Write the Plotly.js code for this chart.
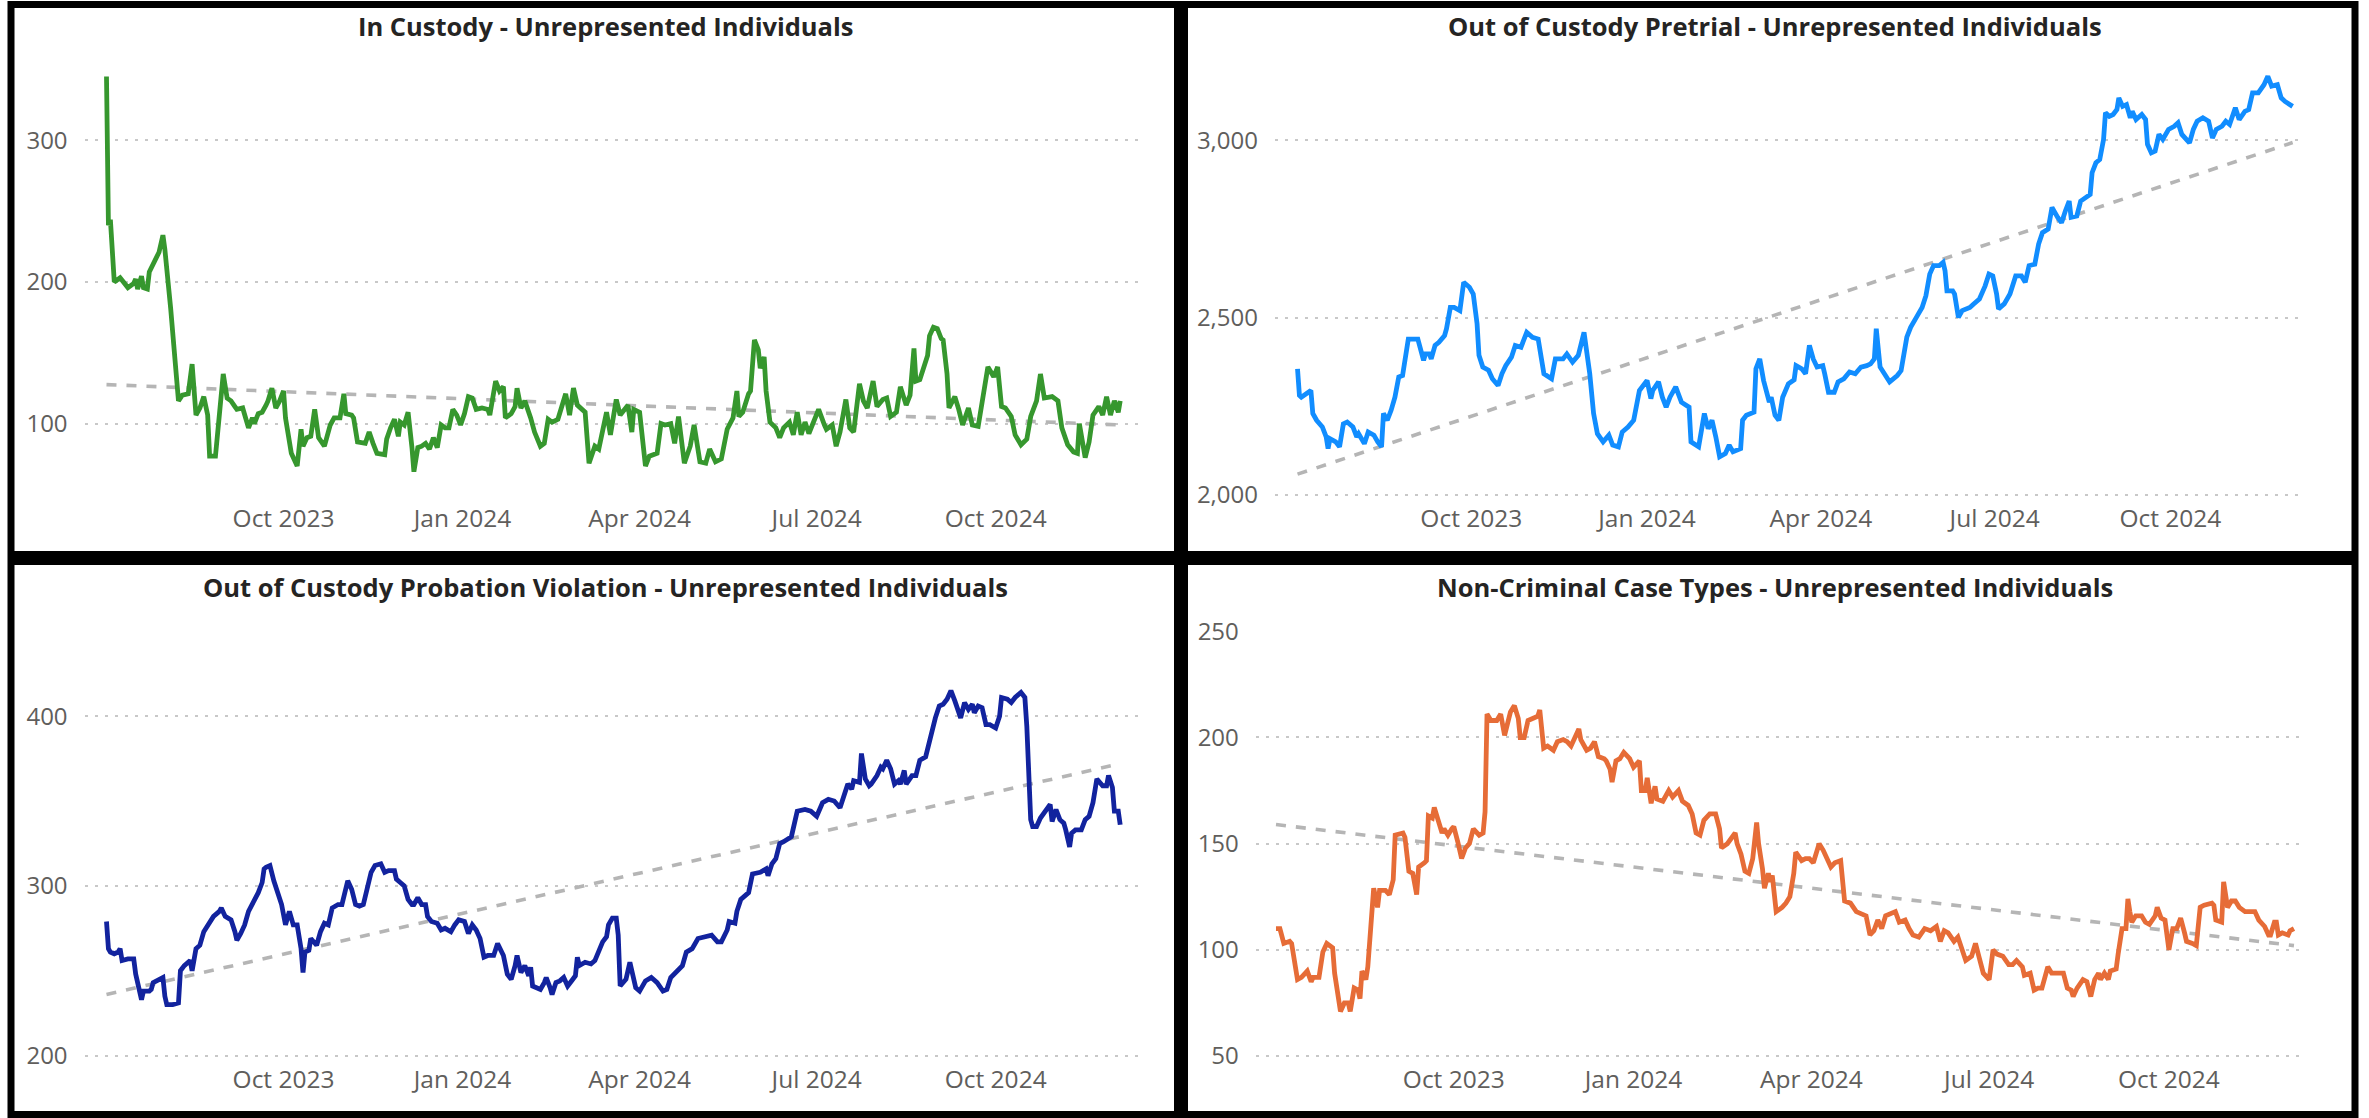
<!DOCTYPE html>
<html>
<head>
<meta charset="utf-8">
<script src="https://cdn.plot.ly/plotly-3.0.1.min.js"></script>
<style>
html,body{margin:0;padding:0;background:#ffffff;}
#chart{width:2369px;height:1118px;}
</style>
</head>
<body>
<div id="chart"></div>
<script>
// ---------------- data ----------------
const tickDates = ['2023-10-01','2024-01-01','2024-04-01','2024-07-01','2024-10-01'];
const tickLabels = ['Oct 2023','Jan 2024','Apr 2024','Jul 2024','Oct 2024'];

const panelTitles = [
  'In Custody - Unrepresented Individuals',
  'Out of Custody Pretrial - Unrepresented Individuals',
  'Out of Custody Probation Violation - Unrepresented Individuals',
  'Non-Criminal Case Types - Unrepresented Individuals'
];

// In Custody
const inCustodyDates = ['2023-07-02','2023-07-03','2023-07-04','2023-07-06','2023-07-09','2023-07-11','2023-07-13','2023-07-16','2023-07-17','2023-07-18','2023-07-20','2023-07-21','2023-07-23','2023-07-24','2023-07-26','2023-07-29','2023-07-31','2023-08-01','2023-08-04','2023-08-07','2023-08-08','2023-08-10','2023-08-13','2023-08-15','2023-08-16','2023-08-17','2023-08-19','2023-08-21','2023-08-23','2023-08-24','2023-08-27','2023-08-29','2023-08-31','2023-09-02','2023-09-04','2023-09-06','2023-09-07','2023-09-10','2023-09-13','2023-09-15','2023-09-16','2023-09-18','2023-09-20','2023-09-22','2023-09-23','2023-09-25','2023-09-27','2023-09-29','2023-10-01','2023-10-02','2023-10-05','2023-10-08','2023-10-10','2023-10-11','2023-10-13','2023-10-15','2023-10-17','2023-10-19','2023-10-22','2023-10-25','2023-10-27','2023-10-30','2023-11-01','2023-11-02','2023-11-05','2023-11-06','2023-11-08','2023-11-12','2023-11-14','2023-11-16','2023-11-18','2023-11-22','2023-11-23','2023-11-25','2023-11-27','2023-11-29','2023-11-30','2023-12-02','2023-12-04','2023-12-06','2023-12-07','2023-12-09','2023-12-11','2023-12-13','2023-12-15','2023-12-17','2023-12-19','2023-12-21','2023-12-23','2023-12-25','2023-12-27','2023-12-29','2023-12-31','2024-01-02','2024-01-04','2024-01-06','2024-01-08','2024-01-11','2024-01-14','2024-01-15','2024-01-18','2024-01-20','2024-01-22','2024-01-23','2024-01-26','2024-01-28','2024-01-29','2024-01-31','2024-02-02','2024-02-05','2024-02-07','2024-02-10','2024-02-12','2024-02-14','2024-02-16','2024-02-19','2024-02-21','2024-02-23','2024-02-25','2024-02-27','2024-02-29','2024-03-04','2024-03-06','2024-03-09','2024-03-11','2024-03-13','2024-03-15','2024-03-17','2024-03-20','2024-03-22','2024-03-26','2024-03-28','2024-03-29','2024-04-01','2024-04-04','2024-04-06','2024-04-10','2024-04-12','2024-04-14','2024-04-17','2024-04-19','2024-04-21','2024-04-24','2024-04-27','2024-04-29','2024-05-02','2024-05-05','2024-05-07','2024-05-10','2024-05-13','2024-05-16','2024-05-19','2024-05-21','2024-05-22','2024-05-24','2024-05-27','2024-05-28','2024-05-30','2024-06-01','2024-06-02','2024-06-04','2024-06-05','2024-06-07','2024-06-10','2024-06-12','2024-06-14','2024-06-17','2024-06-19','2024-06-21','2024-06-23','2024-06-25','2024-06-27','2024-06-30','2024-07-02','2024-07-05','2024-07-06','2024-07-09','2024-07-11','2024-07-13','2024-07-16','2024-07-18','2024-07-20','2024-07-23','2024-07-25','2024-07-27','2024-07-30','2024-08-01','2024-08-04','2024-08-06','2024-08-08','2024-08-11','2024-08-13','2024-08-16','2024-08-18','2024-08-20','2024-08-21','2024-08-23','2024-08-25','2024-08-27','2024-08-28','2024-08-30','2024-09-01','2024-09-03','2024-09-04','2024-09-06','2024-09-07','2024-09-10','2024-09-12','2024-09-14','2024-09-17','2024-09-19','2024-09-22','2024-09-25','2024-09-27','2024-09-30','2024-10-02','2024-10-04','2024-10-06','2024-10-09','2024-10-11','2024-10-14','2024-10-17','2024-10-19','2024-10-22','2024-10-24','2024-10-26','2024-10-30','2024-11-02','2024-11-04','2024-11-07','2024-11-10','2024-11-12','2024-11-13','2024-11-16','2024-11-18','2024-11-20','2024-11-23','2024-11-25','2024-11-27','2024-11-29','2024-12-01','2024-12-03','2024-12-04'];
const inCustodyValues = [345,240,244,200,203,200,196,199,202,195,204,196,195,207,212,221,233,223,181,130,116,120,121,142,124,106,111,119,106,77,77,108,135,118,116,112,110,111,97,104,100,107,108,113,116,125,111,116,123,104,79,70,96,84,90,91,110,90,84,99,104,104,121,107,106,104,87,86,94,86,79,78,89,97,103,91,101,99,108,83,66,83,84,86,82,90,83,99,97,97,110,106,99,107,119,118,110,111,110,106,130,123,126,104,107,112,125,111,116,104,94,84,86,103,101,103,111,121,106,125,113,108,72,84,82,97,108,92,117,106,113,94,110,108,70,77,79,100,99,100,86,105,72,84,99,73,72,82,73,75,96,104,123,105,108,121,123,159,152,139,147,123,101,97,90,97,101,92,108,92,101,93,104,110,99,96,99,84,94,117,97,94,128,116,111,130,112,117,118,105,108,126,113,120,153,130,131,140,148,162,168,167,160,159,135,111,119,110,99,111,99,98,124,140,133,140,112,111,105,92,85,89,105,116,135,118,119,116,97,85,80,79,100,76,87,106,112,106,119,106,116,108,116];

// Out of Custody Pretrial
const pretrialDates = ['2023-07-02','2023-07-03','2023-07-04','2023-07-07','2023-07-09','2023-07-10','2023-07-12','2023-07-15','2023-07-17','2023-07-18','2023-07-19','2023-07-22','2023-07-24','2023-07-26','2023-07-28','2023-07-31','2023-08-02','2023-08-03','2023-08-06','2023-08-08','2023-08-11','2023-08-13','2023-08-15','2023-08-16','2023-08-18','2023-08-20','2023-08-22','2023-08-24','2023-08-26','2023-08-29','2023-09-01','2023-09-03','2023-09-06','2023-09-07','2023-09-09','2023-09-10','2023-09-12','2023-09-14','2023-09-17','2023-09-18','2023-09-20','2023-09-22','2023-09-25','2023-09-27','2023-09-30','2023-10-02','2023-10-04','2023-10-05','2023-10-07','2023-10-10','2023-10-12','2023-10-15','2023-10-17','2023-10-19','2023-10-22','2023-10-24','2023-10-27','2023-10-30','2023-11-02','2023-11-05','2023-11-08','2023-11-10','2023-11-12','2023-11-14','2023-11-18','2023-11-20','2023-11-23','2023-11-26','2023-11-29','2023-12-02','2023-12-04','2023-12-06','2023-12-09','2023-12-12','2023-12-14','2023-12-17','2023-12-19','2023-12-22','2023-12-25','2023-12-28','2024-01-01','2024-01-03','2024-01-04','2024-01-07','2024-01-09','2024-01-11','2024-01-13','2024-01-16','2024-01-19','2024-01-23','2024-01-24','2024-01-28','2024-01-31','2024-02-02','2024-02-04','2024-02-06','2024-02-08','2024-02-11','2024-02-13','2024-02-15','2024-02-19','2024-02-20','2024-02-22','2024-02-26','2024-02-27','2024-02-29','2024-03-02','2024-03-05','2024-03-06','2024-03-08','2024-03-10','2024-03-12','2024-03-15','2024-03-18','2024-03-19','2024-03-22','2024-03-24','2024-03-26','2024-03-28','2024-03-30','2024-04-02','2024-04-03','2024-04-05','2024-04-08','2024-04-10','2024-04-13','2024-04-16','2024-04-19','2024-04-22','2024-04-25','2024-04-27','2024-04-29','2024-04-30','2024-05-02','2024-05-04','2024-05-07','2024-05-11','2024-05-13','2024-05-16','2024-05-18','2024-05-21','2024-05-24','2024-05-26','2024-05-28','2024-05-30','2024-06-02','2024-06-04','2024-06-05','2024-06-06','2024-06-09','2024-06-10','2024-06-12','2024-06-14','2024-06-18','2024-06-20','2024-06-23','2024-06-26','2024-06-28','2024-06-30','2024-07-02','2024-07-03','2024-07-06','2024-07-09','2024-07-12','2024-07-15','2024-07-17','2024-07-19','2024-07-22','2024-07-24','2024-07-26','2024-07-29','2024-07-31','2024-08-03','2024-08-05','2024-08-07','2024-08-09','2024-08-10','2024-08-13','2024-08-15','2024-08-18','2024-08-20','2024-08-21','2024-08-23','2024-08-25','2024-08-27','2024-08-28','2024-08-30','2024-09-01','2024-09-03','2024-09-04','2024-09-06','2024-09-08','2024-09-10','2024-09-11','2024-09-13','2024-09-16','2024-09-18','2024-09-19','2024-09-21','2024-09-23','2024-09-25','2024-09-27','2024-09-30','2024-10-03','2024-10-05','2024-10-07','2024-10-09','2024-10-11','2024-10-13','2024-10-15','2024-10-18','2024-10-21','2024-10-23','2024-10-25','2024-10-28','2024-10-30','2024-11-01','2024-11-02','2024-11-04','2024-11-06','2024-11-09','2024-11-11','2024-11-13','2024-11-16','2024-11-19','2024-11-21','2024-11-23','2024-11-26','2024-11-28','2024-11-30','2024-12-02','2024-12-04'];
const pretrialValues = [2356,2281,2276,2290,2295,2230,2211,2192,2164,2131,2159,2150,2136,2201,2206,2192,2164,2173,2145,2178,2169,2150,2136,2230,2211,2239,2276,2333,2337,2440,2440,2440,2380,2398,2398,2384,2422,2431,2450,2469,2529,2529,2520,2600,2586,2567,2483,2394,2361,2352,2328,2309,2342,2365,2389,2422,2417,2459,2445,2440,2342,2333,2328,2384,2384,2398,2375,2394,2459,2342,2230,2173,2150,2169,2141,2136,2178,2192,2211,2295,2323,2272,2295,2319,2276,2248,2276,2305,2262,2248,2150,2136,2230,2187,2211,2164,2108,2117,2141,2122,2131,2211,2225,2234,2356,2384,2323,2262,2276,2225,2211,2276,2314,2325,2365,2356,2342,2422,2384,2361,2365,2342,2290,2290,2319,2328,2347,2342,2361,2365,2370,2384,2469,2361,2342,2319,2337,2351,2445,2473,2501,2529,2562,2623,2647,2647,2656,2633,2576,2576,2567,2501,2520,2529,2539,2553,2590,2623,2618,2567,2525,2539,2567,2618,2618,2600,2647,2651,2708,2740,2750,2811,2783,2768,2801,2829,2783,2787,2829,2843,2848,2909,2937,2946,3003,3078,3068,3073,3087,3120,3096,3101,3064,3082,3059,3073,3059,2989,2965,2970,3017,3003,3031,3040,3050,3017,3003,2993,3031,3054,3064,3054,3007,3031,3040,3054,3045,3064,3092,3059,3082,3087,3134,3134,3157,3181,3153,3157,3120,3110,3101,3096];

// Out of Custody Probation Violation
const probationDates = ['2023-07-02','2023-07-03','2023-07-04','2023-07-06','2023-07-08','2023-07-09','2023-07-10','2023-07-13','2023-07-16','2023-07-17','2023-07-20','2023-07-21','2023-07-24','2023-07-25','2023-07-26','2023-07-29','2023-07-31','2023-08-01','2023-08-02','2023-08-05','2023-08-08','2023-08-09','2023-08-11','2023-08-14','2023-08-15','2023-08-17','2023-08-19','2023-08-21','2023-08-23','2023-08-26','2023-08-29','2023-08-30','2023-09-01','2023-09-04','2023-09-06','2023-09-07','2023-09-09','2023-09-11','2023-09-13','2023-09-15','2023-09-18','2023-09-20','2023-09-21','2023-09-22','2023-09-24','2023-09-26','2023-09-28','2023-09-30','2023-10-02','2023-10-04','2023-10-06','2023-10-08','2023-10-10','2023-10-11','2023-10-12','2023-10-14','2023-10-15','2023-10-18','2023-10-20','2023-10-22','2023-10-24','2023-10-26','2023-10-29','2023-10-31','2023-11-03','2023-11-05','2023-11-07','2023-11-09','2023-11-11','2023-11-13','2023-11-15','2023-11-17','2023-11-20','2023-11-22','2023-11-24','2023-11-27','2023-11-28','2023-11-30','2023-12-02','2023-12-04','2023-12-06','2023-12-07','2023-12-09','2023-12-11','2023-12-13','2023-12-14','2023-12-16','2023-12-19','2023-12-21','2023-12-23','2023-12-26','2023-12-28','2023-12-30','2024-01-02','2024-01-04','2024-01-06','2024-01-08','2024-01-10','2024-01-12','2024-01-14','2024-01-17','2024-01-19','2024-01-21','2024-01-22','2024-01-24','2024-01-26','2024-01-28','2024-01-29','2024-01-31','2024-02-02','2024-02-04','2024-02-05','2024-02-06','2024-02-08','2024-02-10','2024-02-12','2024-02-13','2024-02-15','2024-02-16','2024-02-18','2024-02-20','2024-02-22','2024-02-24','2024-02-26','2024-02-28','2024-02-29','2024-03-01','2024-03-04','2024-03-07','2024-03-09','2024-03-11','2024-03-13','2024-03-15','2024-03-16','2024-03-18','2024-03-20','2024-03-21','2024-03-22','2024-03-25','2024-03-27','2024-03-29','2024-03-30','2024-04-01','2024-04-04','2024-04-07','2024-04-10','2024-04-13','2024-04-15','2024-04-17','2024-04-20','2024-04-23','2024-04-25','2024-04-28','2024-05-01','2024-05-05','2024-05-08','2024-05-11','2024-05-13','2024-05-16','2024-05-17','2024-05-20','2024-05-21','2024-05-23','2024-05-27','2024-05-29','2024-06-02','2024-06-05','2024-06-06','2024-06-08','2024-06-10','2024-06-12','2024-06-14','2024-06-18','2024-06-21','2024-06-25','2024-06-28','2024-07-01','2024-07-04','2024-07-07','2024-07-10','2024-07-13','2024-07-15','2024-07-17','2024-07-19','2024-07-20','2024-07-23','2024-07-24','2024-07-26','2024-07-28','2024-07-29','2024-08-01','2024-08-03','2024-08-04','2024-08-06','2024-08-08','2024-08-10','2024-08-12','2024-08-13','2024-08-15','2024-08-16','2024-08-19','2024-08-21','2024-08-23','2024-08-26','2024-08-27','2024-08-29','2024-08-31','2024-09-02','2024-09-04','2024-09-06','2024-09-08','2024-09-10','2024-09-11','2024-09-13','2024-09-15','2024-09-17','2024-09-19','2024-09-20','2024-09-22','2024-09-24','2024-09-26','2024-09-28','2024-10-01','2024-10-03','2024-10-04','2024-10-07','2024-10-09','2024-10-11','2024-10-14','2024-10-16','2024-10-17','2024-10-19','2024-10-20','2024-10-22','2024-10-24','2024-10-26','2024-10-29','2024-10-30','2024-11-01','2024-11-03','2024-11-05','2024-11-06','2024-11-08','2024-11-09','2024-11-11','2024-11-14','2024-11-16','2024-11-18','2024-11-20','2024-11-22','2024-11-25','2024-11-27','2024-11-28','2024-11-30','2024-12-01','2024-12-03','2024-12-04'];
const probationValues = [279,263,261,260,261,263,256,257,257,248,233,238,238,239,243,245,246,235,230,230,231,250,253,256,250,263,265,273,277,282,285,287,282,280,273,268,272,277,285,289,296,302,310,311,312,303,296,289,277,285,277,277,263,249,261,262,269,265,273,278,277,287,289,289,303,298,289,288,289,300,308,312,313,308,309,309,304,302,300,292,289,289,293,289,289,282,279,278,274,275,273,277,280,279,272,277,274,269,258,259,259,266,261,259,248,245,253,259,249,253,247,252,241,240,239,243,246,240,236,243,244,246,241,244,247,258,253,255,254,256,261,267,270,277,281,281,271,241,245,255,245,240,238,244,246,243,238,239,246,250,253,261,263,269,270,271,267,267,274,279,278,285,292,296,307,308,310,306,313,316,325,326,329,344,345,344,341,349,351,350,346,353,360,357,362,361,378,363,359,360,365,370,369,374,369,360,362,360,368,360,365,365,374,376,381,391,399,406,407,410,415,409,405,399,408,404,407,402,406,405,395,395,393,400,411,410,408,411,414,411,394,339,335,335,340,343,348,338,345,339,337,333,323,331,333,333,339,341,349,363,359,359,365,358,344,344,336];

// Non-Criminal Case Types
const nonCriminalDates = ['2023-07-02','2023-07-04','2023-07-06','2023-07-09','2023-07-10','2023-07-13','2023-07-15','2023-07-18','2023-07-20','2023-07-21','2023-07-24','2023-07-26','2023-07-28','2023-07-31','2023-08-01','2023-08-03','2023-08-04','2023-08-06','2023-08-08','2023-08-09','2023-08-11','2023-08-13','2023-08-14','2023-08-15','2023-08-17','2023-08-18','2023-08-20','2023-08-21','2023-08-23','2023-08-24','2023-08-27','2023-08-29','2023-08-31','2023-09-01','2023-09-05','2023-09-06','2023-09-08','2023-09-10','2023-09-12','2023-09-13','2023-09-16','2023-09-17','2023-09-18','2023-09-20','2023-09-21','2023-09-23','2023-09-25','2023-09-26','2023-09-28','2023-09-30','2023-10-01','2023-10-03','2023-10-05','2023-10-07','2023-10-09','2023-10-11','2023-10-14','2023-10-16','2023-10-17','2023-10-18','2023-10-20','2023-10-23','2023-10-25','2023-10-27','2023-10-28','2023-10-30','2023-11-01','2023-11-03','2023-11-04','2023-11-06','2023-11-08','2023-11-10','2023-11-13','2023-11-14','2023-11-16','2023-11-18','2023-11-21','2023-11-23','2023-11-26','2023-11-28','2023-11-30','2023-12-02','2023-12-04','2023-12-05','2023-12-08','2023-12-10','2023-12-12','2023-12-14','2023-12-17','2023-12-18','2023-12-20','2023-12-21','2023-12-23','2023-12-25','2023-12-27','2023-12-30','2024-01-01','2024-01-04','2024-01-05','2024-01-07','2024-01-08','2024-01-10','2024-01-12','2024-01-13','2024-01-16','2024-01-19','2024-01-21','2024-01-24','2024-01-26','2024-01-29','2024-01-31','2024-02-02','2024-02-04','2024-02-06','2024-02-09','2024-02-12','2024-02-14','2024-02-15','2024-02-18','2024-02-22','2024-02-23','2024-02-25','2024-02-27','2024-02-29','2024-03-02','2024-03-04','2024-03-05','2024-03-07','2024-03-08','2024-03-10','2024-03-11','2024-03-12','2024-03-14','2024-03-17','2024-03-19','2024-03-21','2024-03-23','2024-03-24','2024-03-27','2024-03-29','2024-03-31','2024-04-02','2024-04-05','2024-04-07','2024-04-09','2024-04-11','2024-04-13','2024-04-16','2024-04-18','2024-04-21','2024-04-24','2024-04-27','2024-04-29','2024-05-01','2024-05-03','2024-05-05','2024-05-07','2024-05-09','2024-05-12','2024-05-14','2024-05-16','2024-05-19','2024-05-21','2024-05-23','2024-05-26','2024-05-29','2024-06-01','2024-06-04','2024-06-06','2024-06-08','2024-06-10','2024-06-13','2024-06-15','2024-06-17','2024-06-19','2024-06-22','2024-06-24','2024-06-26','2024-06-28','2024-07-01','2024-07-03','2024-07-05','2024-07-08','2024-07-11','2024-07-13','2024-07-15','2024-07-18','2024-07-19','2024-07-22','2024-07-24','2024-07-26','2024-07-28','2024-07-31','2024-08-02','2024-08-04','2024-08-06','2024-08-08','2024-08-10','2024-08-12','2024-08-13','2024-08-15','2024-08-18','2024-08-20','2024-08-22','2024-08-24','2024-08-26','2024-08-27','2024-08-29','2024-08-31','2024-09-01','2024-09-04','2024-09-05','2024-09-07','2024-09-09','2024-09-10','2024-09-11','2024-09-12','2024-09-14','2024-09-17','2024-09-19','2024-09-21','2024-09-24','2024-09-25','2024-09-27','2024-09-29','2024-10-01','2024-10-03','2024-10-05','2024-10-07','2024-10-09','2024-10-10','2024-10-13','2024-10-15','2024-10-17','2024-10-19','2024-10-23','2024-10-24','2024-10-25','2024-10-28','2024-10-29','2024-10-31','2024-11-02','2024-11-04','2024-11-06','2024-11-09','2024-11-11','2024-11-14','2024-11-16','2024-11-19','2024-11-21','2024-11-22','2024-11-24','2024-11-25','2024-11-26','2024-11-28','2024-12-01','2024-12-02','2024-12-04'];
const nonCriminalValues = [110,110,103,104,103,86,87,90,85,87,87,99,103,101,89,78,71,75,75,71,82,81,77,90,86,92,117,129,120,128,128,126,133,154,155,153,137,136,126,139,141,142,163,162,167,161,155,157,154,157,158,151,143,148,150,157,154,155,165,211,208,208,211,201,205,212,215,209,200,200,208,209,210,213,195,196,194,198,199,198,196,200,204,199,194,195,198,191,190,189,185,179,189,190,193,190,186,189,175,175,181,169,177,171,170,175,172,175,170,168,164,155,154,161,164,164,157,148,150,155,150,145,137,136,143,160,150,138,129,136,132,135,118,120,122,125,136,146,142,143,143,141,150,147,143,139,141,142,123,122,118,117,116,107,109,114,110,116,117,118,113,114,110,107,106,110,109,111,104,109,108,104,106,101,95,97,103,96,89,86,100,98,97,93,93,95,92,88,89,81,82,82,92,89,89,89,89,82,81,78,82,86,85,78,86,89,86,89,86,90,91,98,110,110,124,118,113,116,116,113,112,116,120,115,114,100,110,110,115,108,104,103,102,120,121,122,121,114,113,132,120,123,123,120,118,118,118,114,111,107,107,113,113,107,108,107,109,110];

// trend lines (start / end values as drawn)
const trendDates = ['2023-07-02','2024-12-04'];
const inCustodyTrend = [127.5, 99];
const pretrialTrend = [2059, 2994];
const probationTrend = [236, 372];
const nonCriminalTrend = [159, 102];

const lineColors = ['#36972E','#118DFF','#12239E','#E66C37'];

// ---------------- chart ----------------
const W = 2369, H = 1118;
const FONT = 'Open Sans, Noto Sans, sans-serif';
const px = v => v / W;
const py = v => 1 - v / H;

const series = [
  {d: inCustodyDates, v: inCustodyValues, t: inCustodyTrend},
  {d: pretrialDates, v: pretrialValues, t: pretrialTrend},
  {d: probationDates, v: probationValues, t: probationTrend},
  {d: nonCriminalDates, v: nonCriminalValues, t: nonCriminalTrend}
];

const traces = [];
series.forEach((s, i) => {
  const ax = i === 0 ? '' : String(i + 1);
  traces.push({
    x: trendDates, y: s.t, type: 'scatter', mode: 'lines',
    xaxis: 'x' + ax, yaxis: 'y' + ax,
    line: {color: '#B5B5B5', width: 3.6, dash: '10px,10px'},
    hoverinfo: 'skip', showlegend: false
  });
  traces.push({
    x: s.d, y: s.v, type: 'scatter', mode: 'lines',
    xaxis: 'x' + ax, yaxis: 'y' + ax,
    line: {color: lineColors[i], width: 4.8},
    showlegend: false
  });
});

function xAxis(domain, range, anchor) {
  return {
    domain: domain, range: range, type: 'date', anchor: anchor,
    tickvals: tickDates, ticktext: tickLabels,
    showgrid: false, zeroline: false, showline: false, ticks: '',
    tickfont: {family: FONT, size: 24.5, color: '#605E5C'},
    ticklabelstandoff: 5,
    fixedrange: true
  };
}
function yAxis(domain, range, tickvals, anchor) {
  return {
    domain: domain, range: range, anchor: anchor,
    tickvals: tickvals, tickformat: ',d',
    showgrid: true, gridcolor: '#C8C8C8', gridwidth: 2, griddash: '3px,7px',
    zeroline: false, showline: false, ticks: '',
    tickfont: {family: FONT, size: 24, color: '#605E5C'},
    ticklabelstandoff: 16,
    fixedrange: true
  };
}

const topY = [py(496.5), py(69.5)];
const botY = [py(1057.3), py(631.3)];

const layout = {
  width: W, height: H,
  margin: {l: 0, r: 0, t: 0, b: 0, pad: 0},
  paper_bgcolor: '#ffffff', plot_bgcolor: '#ffffff',
  showlegend: false,
  xaxis:  xAxis([px(84.6), px(1143.4)], ['2023-06-20 18:00', '2024-12-15 22:00'], 'y'),
  yaxis:  yAxis(topY, [48.5, 350], [100, 200, 300], 'x'),
  xaxis2: xAxis([px(1275), px(2302.6)], ['2023-06-20 05:00', '2024-12-09 05:00'], 'y2'),
  yaxis2: yAxis(topY, [1996, 3200], [2000, 2500, 3000], 'x2'),
  xaxis3: xAxis([px(84.6), px(1143.4)], ['2023-06-20 18:00', '2024-12-15 22:00'], 'y3'),
  yaxis3: yAxis(botY, [199, 450], [200, 300, 400], 'x3'),
  xaxis4: xAxis([px(1255.8), px(2302.6)], ['2023-06-21 16:00', '2024-12-08 10:00'], 'y4'),
  yaxis4: yAxis(botY, [49.4, 250], [50, 100, 150, 200, 250], 'x4'),
  annotations: [
    {text: panelTitles[0], x: px(605), y: py(26), xref: 'paper', yref: 'paper'},
    {text: panelTitles[1], x: px(1775), y: py(26), xref: 'paper', yref: 'paper'},
    {text: panelTitles[2], x: px(605), y: py(587), xref: 'paper', yref: 'paper'},
    {text: panelTitles[3], x: px(1775), y: py(587), xref: 'paper', yref: 'paper'}
  ].map(a => Object.assign(a, {
    showarrow: false, xanchor: 'center', yanchor: 'middle',
    font: {family: FONT, size: 25.5, color: '#252423', weight: 700}
  })),
  shapes: [
    [11, 4.5, 1177.5, 554.5],
    [1184.5, 4.5, 2355, 554.5],
    [11, 561.5, 1177.5, 1114.5],
    [1184.5, 561.5, 2355, 1114.5]
  ].map(r => ({
    type: 'rect', xref: 'paper', yref: 'paper', layer: 'above',
    x0: px(r[0]), x1: px(r[2]), y0: py(r[3]), y1: py(r[1]),
    line: {color: '#000000', width: 7}, fillcolor: 'rgba(0,0,0,0)'
  }))
};

Plotly.newPlot('chart', traces, layout, {staticPlot: true, displayModeBar: false});
</script>
</body>
</html>
